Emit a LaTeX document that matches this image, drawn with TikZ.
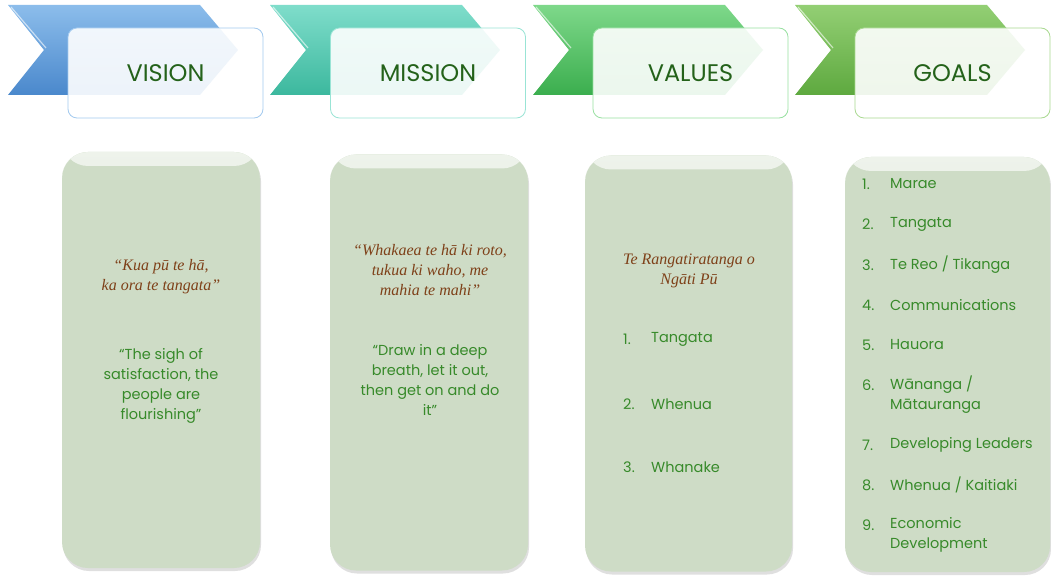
\documentclass[tikz,border=0pt]{standalone}
\usepackage{fontspec}
\setsansfont{Poppins}
\newfontfamily\quotefont{Liberation Serif}
\usetikzlibrary{shadows}
\definecolor{blueA}{HTML}{8CBDEB}
\definecolor{blueB}{HTML}{4A88CC}
\definecolor{tealA}{HTML}{7FDDCB}
\definecolor{tealB}{HTML}{3CB89E}
\definecolor{grnA}{HTML}{7ED88A}
\definecolor{grnB}{HTML}{3BAE4E}
\definecolor{oliA}{HTML}{93CF74}
\definecolor{oliB}{HTML}{5EA93F}
\definecolor{cardfill}{HTML}{CEDCC6}
\definecolor{brownt}{HTML}{7E4018}
\definecolor{greent}{HTML}{378A2A}
\definecolor{headt}{HTML}{24621A}
\tikzset{
  hbox/.style={draw=#1, line width=0.8pt, rounded corners=9pt, fill=white, fill opacity=0.9, text opacity=1,
    minimum width=195pt, minimum height=90pt, font=\sffamily\fontsize{24}{28}\selectfont, text=headt},
  card/.style={rounded corners=26pt, fill=cardfill, minimum width=198pt, minimum height=416pt,
    drop shadow={opacity=0.25, shadow xshift=1pt, shadow yshift=-3pt},
    path picture={\shade[top color=cardfill!35!white, bottom color=cardfill]
      (path picture bounding box.north west) rectangle ([yshift=-14pt]path picture bounding box.north east);}},
  quote/.style={font=\quotefont\itshape\fontsize{16}{20}\selectfont, text=brownt, align=center},
  eng/.style={font=\sffamily\fontsize{14.5}{20}\selectfont, text=greent, align=center},
  num/.style={font=\sffamily\fontsize{14.5}{20}\selectfont, text=greent, anchor=west, inner sep=0pt},
  item/.style={font=\sffamily\fontsize{14.5}{20}\selectfont, text=greent, anchor=west, inner sep=0pt, align=left},
}
\newcommand\chevron[3]{%
  \path[top color=#2, bottom color=#3] (#1,5) -- ++(192,0) -- ++(38,45) -- ++(-38,45) -- ++(-192,0) -- ++(36,-45) -- cycle;
  \draw[white, opacity=0.6, line width=1.2pt] (#1+3,7) -- (#1+38,48);
}
\begin{document}
\begin{tikzpicture}[x=1pt,y=-1pt]
\useasboundingbox (0,0) rectangle (1051,577);
\fill[white] (0,0) rectangle (1051,577);
% chevrons
\chevron{8}{blueA}{blueB}
\chevron{270}{tealA}{tealB}
\chevron{533}{grnA}{grnB}
\chevron{795}{oliA}{oliB}
% header boxes
\node[hbox=blueA!80] (vision) at (165.5,73) {VISION};
\node[hbox=tealA!80] (mission) at (428,73) {MISSION};
\node[hbox=grnA!80] (values) at (690.5,73) {VALUES};
\node[hbox=oliA!80] (goals) at (952.5,73) {GOALS};
% cards
\node[card] (c1) at (161,360) {};
\node[card] (c2) at (429,362.5) {};
\node[card, minimum width=207pt] (c3) at (688.5,363.5) {};
\node[card, minimum width=205pt, minimum height=415pt] (c4) at (947.5,364.5) {};
% card 1
\node[quote] (q1) at (161,277) {“Kua pū te hā,\\ ka ora te tangata”};
\node[eng] (e1) at (161,386) {“The sigh of\\ satisfaction, the\\ people are\\ flourishing”};
% card 2
\node[quote] (q2) at (430,270) {“Whakaea te hā ki roto,\\ tukua ki waho, me\\ mahia te mahi”};
\node[eng] (e2) at (430,380) {“Draw in a deep\\ breath, let it out,\\ then get on and do\\ it”};
% card 3
\node[quote] (q3) at (689,271) {Te Rangatiratanga o\\ Ngāti Pū};
\node[num] (v1n) at (623,339) {1.};
\node[item] (v1) at (651,339) {Tangata};
\node[num] (v2n) at (623,404) {2.};
\node[item] (v2) at (651,404) {Whenua};
\node[num] (v3n) at (623,467) {3.};
\node[item] (v3) at (651,467) {Whanake};
% card 4
\node[num] (g1n) at (862,184) {1.};
\node[item] (g1) at (890,184) {Marae};
\node[num] (g2n) at (862,224) {2.};
\node[item] (g2) at (890,224) {Tangata};
\node[num] (g3n) at (862,265) {3.};
\node[item] (g3) at (890,265) {Te Reo / Tikanga};
\node[num] (g4n) at (862,305) {4.};
\node[item] (g4) at (890,305) {Communications};
\node[num] (g5n) at (862,345) {5.};
\node[item] (g5) at (890,345) {Hauora};
\node[num] (g6n) at (862,385) {6.};
\node[item] (g6) at (890,395) {Wānanga /\\ Mātauranga};
\node[num] (g7n) at (862,445) {7.};
\node[item] (g7) at (890,445) {Developing Leaders};
\node[num] (g8n) at (862,485) {8.};
\node[item] (g8) at (890,485) {Whenua / Kaitiaki};
\node[num] (g9n) at (862,525) {9.};
\node[item] (g9) at (890,535) {Economic\\ Development};
\end{tikzpicture}
\end{document}
